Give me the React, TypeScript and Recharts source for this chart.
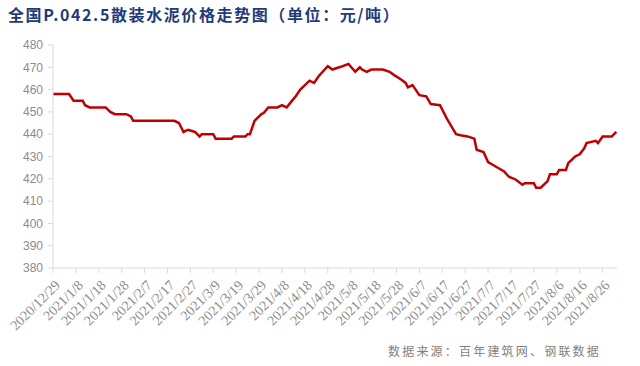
import React from 'react';
import { LineChart, Line, XAxis, YAxis } from 'recharts';

// days since 2020/12/29 and the national P.O 42.5 bulk cement price (yuan/ton)
const days = [
  0, 7, 9, 13, 14, 16, 23, 25, 27, 32, 34, 35, 53, 55, 57, 59, 62, 64, 65, 70,
  71, 78, 79, 84, 85, 86, 88, 90, 91, 92, 94, 98, 100, 102, 104, 106, 108, 109, 112, 114,
  116, 120, 122, 125, 129, 132, 134, 135, 137, 139, 144, 147, 149, 152, 154, 155, 157, 160, 163, 165,
  169, 172, 174, 176, 178, 181, 184, 185, 188, 190, 192, 195, 197, 199, 202, 205, 206, 210, 211, 213,
  216, 217, 220, 221, 224, 225, 228, 230, 232, 233, 237, 238, 240, 244, 246,
];
const prices = [
  458, 458, 455, 455, 453, 452, 452, 450, 449, 449, 448, 446, 446, 445, 441, 442, 441, 439, 440, 440,
  438, 438, 439, 439, 440, 440, 446, 448, 449, 449.5, 452, 452, 453, 452, 454.5, 457, 460, 461, 464, 463,
  466, 470.5, 469, 470, 471.5, 468, 470, 469, 468, 469, 469, 468, 466.5, 464.5, 463, 461, 462, 457.5, 457, 453.5,
  453, 447, 443.5, 440, 439.5, 439, 438, 433, 432, 427.5, 426.3, 424.5, 423.3, 421, 419.7, 417.3, 418, 418, 416, 416,
  419, 422, 422, 424, 424, 427, 430, 431, 433.7, 436, 437, 436, 439, 439, 441,
];

const tickDays = [0, 10, 20, 30, 40, 50, 60, 70, 80, 90, 100, 110, 120, 130, 140, 150, 160, 170, 180, 190, 200, 210, 220, 230, 240];
const tickLabels = [
  '2020/12/29', '2021/1/8', '2021/1/18', '2021/1/28', '2021/2/7', '2021/2/17', '2021/2/27', '2021/3/9',
  '2021/3/19', '2021/3/29', '2021/4/8', '2021/4/18', '2021/4/28', '2021/5/8', '2021/5/18', '2021/5/28',
  '2021/6/7', '2021/6/17', '2021/6/27', '2021/7/7', '2021/7/17', '2021/7/27', '2021/8/6', '2021/8/16', '2021/8/26',
];
const priceTicks = [380, 390, 400, 410, 420, 430, 440, 450, 460, 470, 480];

const data = days.map((d, i) => ({ day: d, price: prices[i] }));

const DateTick = (props: { x?: number; y?: number; payload?: { value: number } }) => {
  const { x = 0, y = 0, payload } = props;
  const label = tickLabels[tickDays.indexOf(payload ? payload.value : 0)];
  return (
    <g transform={`translate(${x + 8},${y + 11})`}>
      <text
        x={0}
        y={0}
        transform="rotate(-45)"
        textAnchor="end"
        fill="#8c8c8c"
        fontSize={14}
        fontFamily="'Liberation Serif', serif"
      >
        {label}
      </text>
    </g>
  );
};

export default function App() {
  return (
    <div style={{ position: 'absolute', left: 0, top: 0, width: 640, height: 366, background: '#fff' }}>
      <div
        style={{
          position: 'absolute',
          left: 8,
          top: 2,
          fontFamily: "'Noto Sans CJK SC', sans-serif",
          fontWeight: 700,
          fontSize: 16,
          letterSpacing: 1.6,
          color: '#1f3b7b',
          whiteSpace: 'nowrap',
        }}
      >
        全国P.042.5散装水泥价格走势图（单位：元/吨）
      </div>
      <LineChart width={640} height={366} data={data} margin={{ top: 45, right: 23, left: 0, bottom: 0 }}>
        <XAxis
          dataKey="day"
          type="number"
          domain={[0, 246.3]}
          ticks={tickDays}
          interval={0}
          tick={<DateTick />}
          tickSize={5}
          height={98}
          axisLine={{ stroke: '#d9d9d9' }}
          tickLine={{ stroke: '#d9d9d9' }}
        />
        <YAxis
          domain={[380, 480]}
          ticks={priceTicks}
          interval={0}
          width={53}
          tickSize={5}
          tickMargin={5}
          tick={{ fill: '#8c8c8c', fontSize: 12, fontFamily: 'Arial, Liberation Sans, sans-serif' }}
          axisLine={{ stroke: '#d9d9d9' }}
          tickLine={{ stroke: '#d9d9d9' }}
        />
        <Line
          type="linear"
          dataKey="price"
          stroke="#c00000"
          strokeWidth={2.5}
          dot={false}
          activeDot={false}
          isAnimationActive={false}
        />
      </LineChart>
      <div
        style={{
          position: 'absolute',
          left: 388,
          top: 342,
          fontFamily: "'Noto Sans CJK SC', sans-serif",
          fontSize: 12,
          letterSpacing: 2.2,
          color: '#7f7f7f',
          whiteSpace: 'nowrap',
        }}
      >
        数据来源：百年建筑网、钢联数据
      </div>
    </div>
  );
}
